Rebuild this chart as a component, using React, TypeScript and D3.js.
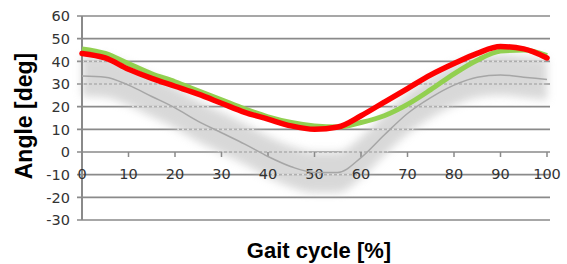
import React from "react";
import * as d3 from "d3";

const gaitPct = [0, 5, 10, 15, 20, 25, 30, 35, 40, 45, 50, 55, 60, 65, 70, 75, 80, 85, 90, 95, 100];
const greenSeries = [45.5, 43.5, 39, 34.5, 31, 27, 23, 19, 15.5, 13, 11.5, 11, 13, 16, 21, 27.5, 34.5, 40.5, 44.5, 45, 42.5];
const redSeries = [43.5, 41.5, 36.5, 32.5, 29, 25.5, 21.5, 17.5, 14.5, 11.5, 10, 11, 16, 22, 28, 34, 39, 43.5, 46.5, 45.5, 41.5];
const grayMean = [33.5, 33, 29.5, 24.5, 19.5, 13.5, 8.5, 3.5, -2, -6.5, -9, -9, -2.5, 7.5, 17, 24, 29.5, 33, 34, 33, 32];
const bandHalf = 9;
const yTicks = [60, 50, 40, 30, 20, 10, 0, -10, -20, -30];
const xTicks = [0, 10, 20, 30, 40, 50, 60, 70, 80, 90, 100];

export default function App() {
  const W = 567, H = 264;
  const x = d3.scaleLinear().domain([0, 100]).range([82, 547]);
  const y = d3.scaleLinear().domain([-30, 60]).range([220, 16]);
  const line = (vals: number[]) =>
    d3.line<number>().x((_, i) => x(gaitPct[i])).y((d) => y(d)).curve(d3.curveMonotoneX)(vals) || "";
  const area = d3
    .area<number>()
    .x((_, i) => x(gaitPct[i]))
    .y0((d) => y(d - bandHalf))
    .y1((d) => y(d + bandHalf))
    .curve(d3.curveMonotoneX)(grayMean) || "";
  const gridX0 = 77, gridX1 = 550;
  const font = "'DejaVu Sans', Verdana, sans-serif";
  const titleFont = "'Liberation Sans', Arial, sans-serif";
  return (
    <div style={{ position: "absolute", left: 0, top: 0 }}>
      <svg width={W} height={H} style={{ display: "block", background: "#fff" }}>
        <defs>
          <filter id="blur" x="-10%" y="-30%" width="120%" height="160%">
            <feGaussianBlur stdDeviation="4" />
          </filter>
          <clipPath id="bandClip">
            <path d={area} />
          </clipPath>
        </defs>
        {yTicks.map((t) => (
          <line key={t} x1={gridX0} x2={gridX1} y1={y(t)} y2={y(t)} stroke="#8a8a8a" strokeWidth={1.6} />
        ))}
        <path d={area} fill="#c4c4c4" opacity={0.65} filter="url(#blur)" />
        <g clipPath="url(#bandClip)">
          {yTicks.map((t) => (
            <line key={t} x1={x(0)} x2={gridX1} y1={y(t)} y2={y(t)} stroke="#e2e2e2" strokeWidth={1.7} strokeDasharray="2 3" />
          ))}
        </g>
        <line x1={82} x2={82} y1={y(60)} y2={y(-30)} stroke="#8a8a8a" strokeWidth={2} />
        {xTicks.map((t) => (
          <line key={t} x1={x(t)} x2={x(t)} y1={y(0)} y2={y(0) + 5} stroke="#8a8a8a" strokeWidth={1.5} />
        ))}
        {yTicks.map((t) => (
          <text key={t} x={70} y={y(t)} dy="0.36em" textAnchor="end" fontSize={14.5} fontFamily={font} fill="#333">
            {t}
          </text>
        ))}
        {xTicks.map((t) => (
          <text key={t} x={x(t)} y={174} dy="0.36em" textAnchor="middle" fontSize={14.5} fontFamily={font} fill="#333">
            {t}
          </text>
        ))}
        <path d={line(grayMean)} fill="none" stroke="#a6a6a6" strokeWidth={1.5} />
        <path d={line(greenSeries)} fill="none" stroke="#92d050" strokeWidth={5} strokeLinejoin="round" />
        <path d={line(redSeries)} fill="none" stroke="#ff0000" strokeWidth={5.5} strokeLinejoin="round" strokeLinecap="round" />
        <text x={319} y={258} textAnchor="middle" fontSize={22} fontWeight="bold" fontFamily={titleFont} fill="#000">
          Gait cycle [%]
        </text>
        <text
          transform={`translate(32,116) rotate(-90)`}
          textAnchor="middle"
          fontSize={23}
          fontWeight="bold"
          fontFamily={titleFont}
          fill="#000"
        >
          Angle [deg]
        </text>
      </svg>
    </div>
  );
}
